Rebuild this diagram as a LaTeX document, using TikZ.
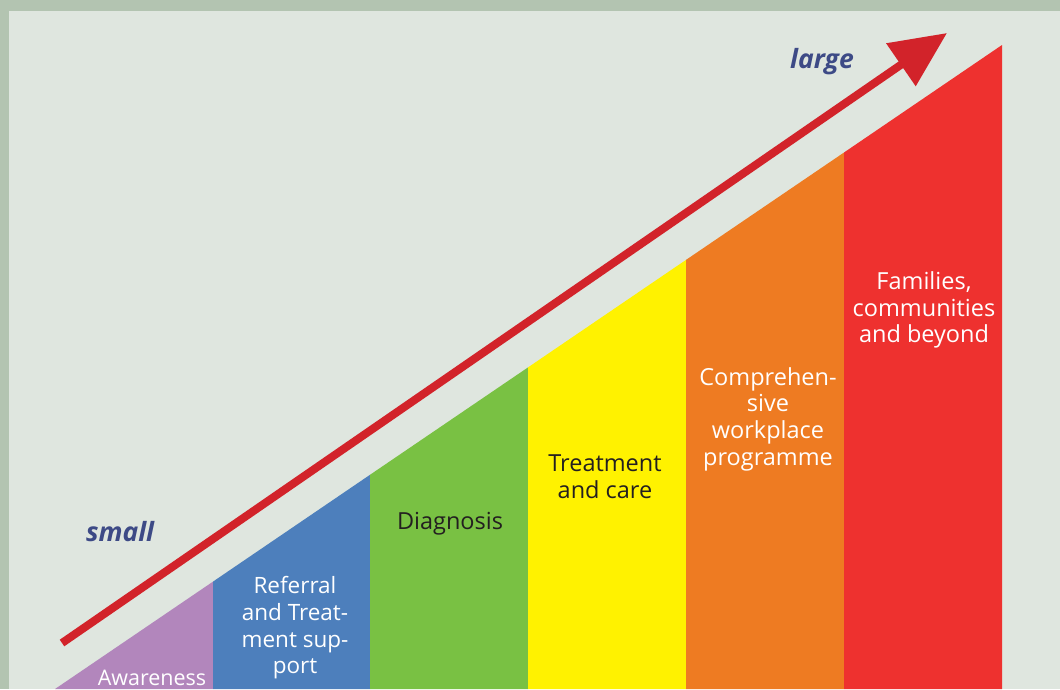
\documentclass[tikz,border=0pt]{standalone}
\usepackage{fontspec}
\setmainfont{Open Sans}
\usepackage{tikz}
\usetikzlibrary{arrows.meta}
\definecolor{frame}{HTML}{B3C4B1}
\definecolor{panel}{HTML}{DFE6DF}
\definecolor{stepA}{HTML}{B286BC}
\definecolor{stepB}{HTML}{4D7FBC}
\definecolor{stepC}{HTML}{79C143}
\definecolor{stepD}{HTML}{FFF200}
\definecolor{stepE}{HTML}{EE7B22}
\definecolor{stepF}{HTML}{EE312F}
\definecolor{growth}{HTML}{D2232A}
\definecolor{navy}{HTML}{3D4A86}
\definecolor{ink}{HTML}{231F20}
\tikzstyle{lbl} = [align=center, inner sep=0pt, font={\fontsize{23.5}{26.7}\selectfont}]
\tikzstyle{lblsmall} = [lbl, font={\fontsize{22.5}{26.7}\selectfont}]
\tikzstyle{light} = [color=white]
\tikzstyle{dark} = [color=ink]
\tikzstyle{size} = [color=navy, inner sep=0pt, font={\fontsize{26.5}{30}\selectfont\bfseries\itshape}]

\begin{document}
\begin{tikzpicture}[x=1pt,y=-1pt]
    \useasboundingbox (0,0) rectangle (1060,689);
    \fill[frame] (0,0) rectangle (1060,689);
    \fill[panel] (9,11) rectangle (1060,689);
    % steps of the staircase
    \fill[stepA] (55,689)--(213,581.6)--(213,689)--cycle;
    \fill[stepB] (213,689)--(213,581.6)--(370,474.8)--(370,689)--cycle;
    \fill[stepC] (370,689)--(370,474.8)--(528,367.4)--(528,689)--cycle;
    \fill[stepD] (528,689)--(528,367.4)--(686,259.9)--(686,689)--cycle;
    \fill[stepE] (686,689)--(686,259.9)--(844,152.5)--(844,689)--cycle;
    \fill[stepF] (844,689)--(844,152.5)--(1002,45)--(1002,689)--cycle;
    \node[lblsmall,light,font={\fontsize{21.5}{26.7}\selectfont}](aware) at (152,678){Awareness};
    \node[lblsmall,light](refer) at (295,628){Referral\\and Treat-\\ment sup-\\port};
    \node[lbl,dark](diag) at (450,524){Diagnosis};
    \node[lbl,dark](treat) at (605,477){Treatment\\and care};
    \node[lbl,light](work) at (768,419){Comprehen-\\sive\\workplace\\programme};
    \node[lbl,light](fam) at (924,310){Families,\\communities\\and beyond};
    \node[size](small) at (120,532){small};
    \node[size](large) at (822,62){large};
    \coordinate (from) at (62,643);
    \coordinate (to) at (947,33);
    \draw[growth, line width=8pt, -{Triangle[length=56pt,width=50pt]}](from)--(to);
  \end{tikzpicture}
\end{document}
